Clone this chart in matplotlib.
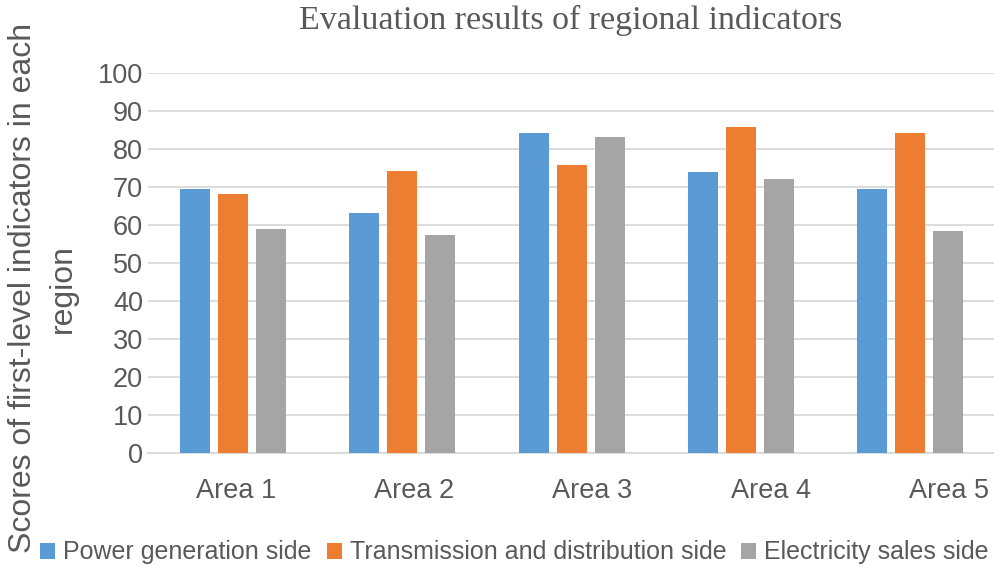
import numpy as np
import matplotlib
matplotlib.use('Agg')
import matplotlib.pyplot as plt

areas = ['Area 1', 'Area 2', 'Area 3', 'Area 4', 'Area 5']
series_names = ['Power generation side', 'Transmission and distribution side', 'Electricity sales side']
generation = [69.4, 63.2, 84.1, 74.0, 69.5]
transmission = [68.1, 74.2, 75.9, 85.8, 84.1]
sales = [58.9, 57.4, 83.2, 72.1, 58.4]
colors = ['#5B9BD5', '#ED7D31', '#A5A5A5']

text_color = '#595959'
grid_color = '#D9D9D9'

plt.rcParams['font.family'] = ['Liberation Sans', 'DejaVu Sans']

fig = plt.figure(figsize=(9.95, 5.66), dpi=100)
ax = fig.add_axes([0.1492, 0.1996, 0.8505, 0.6714])

x = np.arange(len(areas))
width = 0.177
step = 0.2245
for i, (vals, name, col) in enumerate(zip([generation, transmission, sales], series_names, colors)):
    ax.bar(x + (i - 1) * step, vals, width, color=col, label=name, zorder=3)

ax.set_xlim(-0.5, len(areas) - 0.5)
ax.set_ylim(0, 100)
ax.set_yticks(range(0, 101, 10))
ax.tick_params(axis='y', length=0, pad=4, labelsize=19.5, labelcolor=text_color)

# category labels drift slightly right of the bar groups in the original
ax.set_xticks(0.02 + x * 1.052)
ax.set_xticklabels(areas)
ax.tick_params(axis='x', length=0, pad=18, labelsize=19.5, labelcolor=text_color)

ax.grid(axis='y', color=grid_color, linewidth=1.3, zorder=0)
for side in ['top', 'right', 'left']:
    ax.spines[side].set_visible(False)
ax.spines['bottom'].set_color(grid_color)
ax.spines['bottom'].set_linewidth(1.3)

fig.text(0.574, 0.9488, 'Evaluation results of regional indicators',
         family='Liberation Serif', fontsize=24.5, color=text_color,
         ha='center', va='baseline')

fig.text(0.043, 0.491, 'Scores of first-level indicators in each\nregion',
         rotation=90, ha='center', va='center', fontsize=23,
         color=text_color, multialignment='center', linespacing=1.4)

fig.legend(loc='center', bbox_to_anchor=(0.517, 0.024), ncol=3, frameon=False,
           fontsize=18, handlelength=0.6, handleheight=0.6, handletextpad=0.32,
           columnspacing=0.6, labelcolor=text_color, borderaxespad=0, borderpad=0)

fig.savefig('out.png', dpi=100)
